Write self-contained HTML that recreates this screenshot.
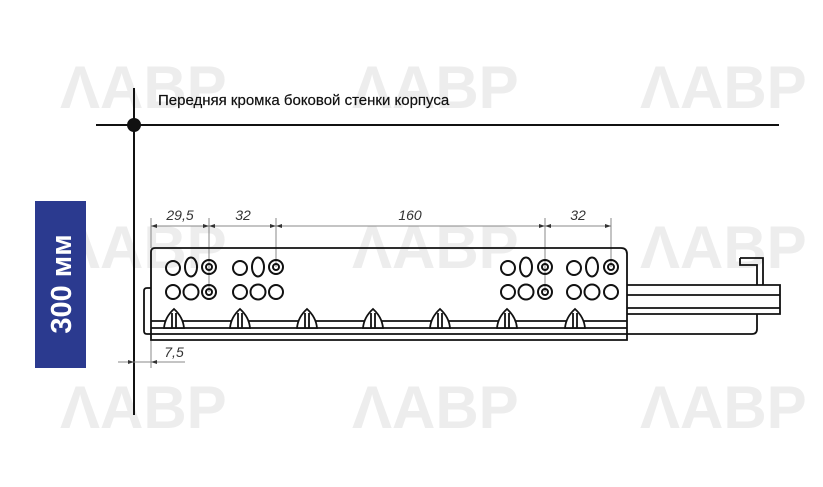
<!DOCTYPE html>
<html><head><meta charset="utf-8"><style>
html,body{margin:0;padding:0;background:#fff;width:823px;height:487px;overflow:hidden}
svg{display:block}
</style></head><body>
<svg width="823" height="487" viewBox="0 0 823 487" xmlns="http://www.w3.org/2000/svg">
<defs>
<g id="wm">
<text x="0" y="0" font-family="Liberation Sans, sans-serif" font-weight="bold" font-size="60" fill="#ededed">ΛАВР</text>
</g>
</defs>
<g>
<use href="#wm" x="60" y="108"/><use href="#wm" x="352" y="108"/><use href="#wm" x="640" y="108"/>
<use href="#wm" x="60" y="268"/><use href="#wm" x="352" y="268"/><use href="#wm" x="640" y="268"/>
<use href="#wm" x="60" y="428"/><use href="#wm" x="352" y="428"/><use href="#wm" x="640" y="428"/>
</g>
<rect x="35" y="201" width="51" height="167" fill="#2b3a8f"/>
<text transform="translate(71,284) rotate(-90)" text-anchor="middle" font-family="Liberation Sans, sans-serif" font-weight="bold" font-size="29" fill="#fff">300 мм</text>
<line x1="134" y1="88" x2="134" y2="415" stroke="#111" stroke-width="2"/>
<line x1="96" y1="125" x2="779" y2="125" stroke="#111" stroke-width="2"/>
<circle cx="134" cy="125" r="7" fill="#111"/>
<text x="158" y="105" font-family="Liberation Sans, sans-serif" font-size="15" fill="#111" stroke="#111" stroke-width="0.2">Передняя кромка боковой стенки корпуса</text>
<g stroke="#888" stroke-width="1" fill="none">
<line x1="151" y1="218" x2="151" y2="248"/>
<line x1="209" y1="218" x2="209" y2="292"/>
<line x1="276" y1="218" x2="276" y2="267"/>
<line x1="545" y1="218" x2="545" y2="292"/>
<line x1="611" y1="218" x2="611" y2="267"/>
<line x1="151" y1="226" x2="611" y2="226"/>
<line x1="151" y1="338" x2="151" y2="368"/>
<line x1="118" y1="362" x2="185" y2="362"/>
</g>
<g fill="#333">
<path d="M151 226l6-2v4z"/><path d="M209 226l-6-2v4z"/><path d="M209 226l6-2v4z"/>
<path d="M276 226l-6-2v4z"/><path d="M276 226l6-2v4z"/><path d="M545 226l-6-2v4z"/>
<path d="M545 226l6-2v4z"/><path d="M611 226l-6-2v4z"/>
<path d="M134 362l-6-2v4z"/><path d="M151 362l6-2v4z"/>
</g>
<g font-family="Liberation Sans, sans-serif" font-style="italic" font-size="14" fill="#333" text-anchor="middle">
<text x="180" y="220">29,5</text><text x="243" y="220">32</text><text x="410" y="220">160</text><text x="578" y="220">32</text>
<text x="174" y="357">7,5</text>
</g>
<g stroke="#111" stroke-width="1.8" fill="none">
<path d="M151 340V252q0-4 4-4H621q6 0 6 6V340Z"/>
<line x1="151" y1="321" x2="627" y2="321"/>
<line x1="151" y1="328" x2="627" y2="328"/>
<line x1="151" y1="334" x2="627" y2="334"/>
<path d="M151 288h-4q-3 0-3 3v40q0 3 3 3h4"/>
<path d="M627 285H780V314H627"/>
<line x1="627" y1="295" x2="780" y2="295"/>
<line x1="627" y1="308" x2="780" y2="308"/>
<path d="M627 334H752q5 0 5-5V314"/>
<path d="M740 258H763V285M740 258v7H757V285"/>
</g>
<g stroke="#111" stroke-width="1.8" fill="#fff">
<g id="t"><path d="M164 328q1-11 10-19q9 8 10 19z"/><line x1="172" y1="313" x2="172" y2="328"/><line x1="176" y1="313" x2="176" y2="328"/></g>
<use href="#t" x="66"/><use href="#t" x="133"/><use href="#t" x="199"/><use href="#t" x="266"/><use href="#t" x="333"/><use href="#t" x="401"/>
</g>
<g stroke="#111" stroke-width="2" fill="none">
<g id="g1">
<circle cx="173" cy="268" r="7"/><ellipse cx="191" cy="267" rx="6" ry="9.5"/>
<circle cx="173" cy="292" r="7"/><circle cx="191" cy="292" r="7.5"/>
</g>
<use href="#g1" x="67"/><use href="#g1" x="335"/><use href="#g1" x="401"/>
<g id="c"><circle cx="209" cy="267" r="7"/><circle cx="209" cy="267" r="3"/></g>
<use href="#c" y="25"/><use href="#c" x="67"/><use href="#c" x="336"/><use href="#c" x="336" y="25"/><use href="#c" x="402"/>
<circle cx="276" cy="292" r="7"/>
<circle cx="611" cy="292" r="7"/>
</g>
</svg>
</body></html>
